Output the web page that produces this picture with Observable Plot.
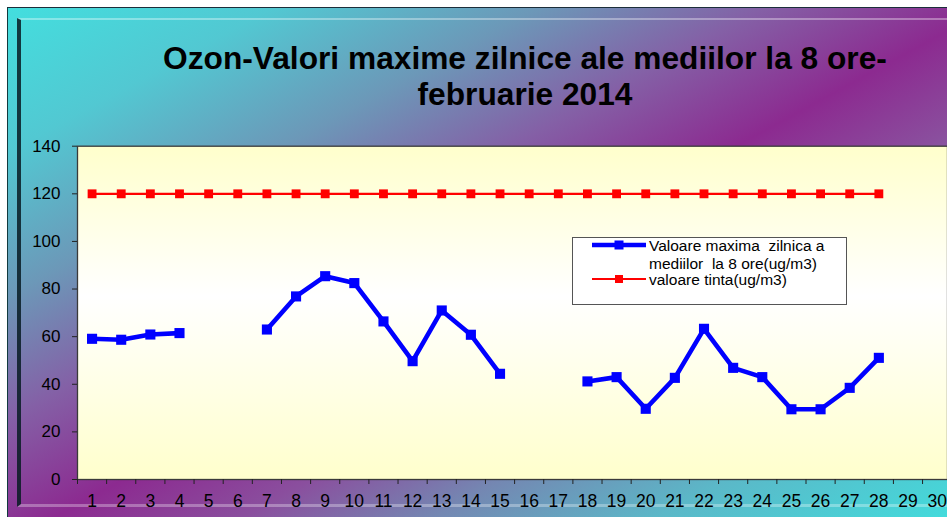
<!DOCTYPE html>
<html>
<head>
<meta charset="utf-8">
<script src="https://cdn.jsdelivr.net/npm/d3@7"></script>
<script src="https://cdn.jsdelivr.net/npm/@observablehq/plot@0.6"></script>
<style>
  html, body { margin: 0; padding: 0; background: #ffffff; }
  #wrap { position: relative; width: 947px; height: 517px; overflow: hidden;
          font-family: "Liberation Sans", Arial, sans-serif; }
  #bg { position: absolute; left: 7px; top: 7px; width: 945px; height: 515px; box-sizing: border-box;
        border-left: 1.5px solid #123a3e; border-top: 1.5px solid #1c2e3a;
        background: linear-gradient(to bottom right,
          #43dede 0%, #52c8d2 14%, #6c98b8 28%, #8460a6 40%, #8c2a90 52%, #8a4f9e 62%,
          #7487b2 72%, #5bb8c8 84%, #42dcdc 100%); }
  #bevel { position: absolute; left: 17px; top: 18px; width: 960px; height: 489px; box-sizing: border-box;
           border-left: 4px solid rgba(8, 28, 36, 0.85);
           border-top: 2px solid rgba(255, 255, 255, 0.35);
           border-bottom: 3px solid rgba(255, 255, 255, 0.3); }
  #title { position: absolute; left: 125px; top: 40px; width: 800px; text-align: center;
           font-weight: bold; font-size: 31.7px; line-height: 36px; color: #000; }
  #chart { position: absolute; left: 0; top: 0; }
  #legend { position: absolute; left: 0; top: 0; pointer-events: none; }
</style>
</head>
<body>
<div id="wrap">
  <div id="bg"></div>
  <div id="bevel"></div>
  <div id="title">Ozon-Valori maxime zilnice ale mediilor la 8 ore-<br>februarie 2014</div>
  <div id="chart"></div>
  <svg id="legend" width="947" height="517"></svg>
</div>
<script>
// ---- data ----
const dayTicks = [1,2,3,4,5,6,7,8,9,10,11,12,13,14,15,16,17,18,19,20,21,22,23,24,25,26,27,28,29,30];
const days = [1,2,3,4,5,6,7,8,9,10,11,12,13,14,15,16,17,18,19,20,21,22,23,24,25,26,27,28];
const ozoneMax = [59.1, 58.7, 60.9, 61.5, null, null, 63.0, 76.9, 85.4, 82.5, 66.4, 49.7, 71.0, 60.8,
                  44.4, null, null, 41.2, 43.0, 29.7, 42.7, 63.3, 46.9, 43.0, 29.5, 29.5, 38.5, 51.1];
const targetValue = [120,120,120,120,120,120,120,120,120,120,120,120,120,120,
                     120,120,120,120,120,120,120,120,120,120,120,120,120,120];
const yTicks = [0, 20, 40, 60, 80, 100, 120, 140];
const seriesNames = ["Valoare maxima  zilnica a", "mediilor  la 8 ore(ug/m3)", "valoare tinta(ug/m3)"];

const ozone = days.map((d, i) => ({day: d, value: ozoneMax[i]}));
const target = days.map((d, i) => ({day: d, value: targetValue[i]}));
const boundaries = [0, ...dayTicks].map(d => d + 0.5);

const chart = Plot.plot({
  width: 947,
  height: 517,
  marginTop: 145.7,
  marginBottom: 38,
  marginLeft: 77,
  marginRight: 0,
  style: { background: "transparent", fontFamily: "'Liberation Sans', Arial, sans-serif", fontSize: "17px", color: "#000", overflow: "visible" },
  x: { type: "linear", domain: [0.5, 30.5], range: [77, 77 + 30 * 29.14] },
  y: { domain: [0, 140], range: [479, 145.7] },
  marks: [
    Plot.frame({ fill: "url(#plotBg)", stroke: "#3a3a3a", strokeWidth: 1.3 }),
    Plot.axisY({ ticks: yTicks, tickSize: 5, tickPadding: 12, tickFormat: d => d, stroke: "#222", fontSize: 17, label: null }),
    Plot.axisX({ ticks: boundaries, tickSize: 5, tickFormat: () => "", stroke: "#222", label: null }),
    Plot.axisX({ ticks: dayTicks, tickSize: 0, tickPadding: 15, tickFormat: d => d, fontSize: 17.5, label: null }),
    Plot.line(target, { x: "day", y: "value", stroke: "#ff0000", strokeWidth: 2.2 }),
    Plot.dot(target, { x: "day", y: "value", symbol: "square", r: 5, fill: "#ff0000", stroke: null }),
    Plot.line(ozone, { x: "day", y: "value", stroke: "#0000ff", strokeWidth: 4.6, strokeLinejoin: "miter", curve: "linear" }),
    Plot.dot(ozone, { x: "day", y: "value", symbol: "square", r: 5.7, fill: "#0000ff", stroke: null })
  ]
});

// gradient for plot area background
const ns = "http://www.w3.org/2000/svg";
const defs = document.createElementNS(ns, "defs");
defs.innerHTML = `<linearGradient id="plotBg" x1="0" y1="0" x2="0" y2="1">
  <stop offset="0" stop-color="#ffffcc"/>
  <stop offset="0.45" stop-color="#ffffff"/>
  <stop offset="1" stop-color="#ffffcc"/>
</linearGradient>`;
chart.insertBefore(defs, chart.firstChild);
document.getElementById("chart").appendChild(chart);

// legend
const lg = d3.select("#legend");
lg.append("rect").attr("x", 572.5).attr("y", 237.5).attr("width", 274).attr("height", 67)
  .attr("fill", "#ffffff").attr("stroke", "#555").attr("stroke-width", 1);
const items = [
  { color: "#0000ff", y: 245, w: 4.6, s: 9, lines: [seriesNames[0], seriesNames[1]] },
  { color: "#ff0000", y: 279, w: 2.2, s: 8, lines: [seriesNames[2]] }
];
items.forEach(it => {
  lg.append("line").attr("x1", 592).attr("x2", 646).attr("y1", it.y).attr("y2", it.y)
    .attr("stroke", it.color).attr("stroke-width", it.w);
  lg.append("rect").attr("x", 619 - it.s / 2).attr("y", it.y - it.s / 2).attr("width", it.s).attr("height", it.s)
    .attr("fill", it.color);
  it.lines.forEach((t, j) => {
    lg.append("text").attr("x", 649).attr("y", it.y + 6 + j * 18)
      .attr("font-family", "'Liberation Sans', Arial, sans-serif").attr("font-size", 15.5)
      .attr("fill", "#000").attr("xml:space", "preserve").style("white-space", "pre").text(t);
  });
});
</script>
</body>
</html>
